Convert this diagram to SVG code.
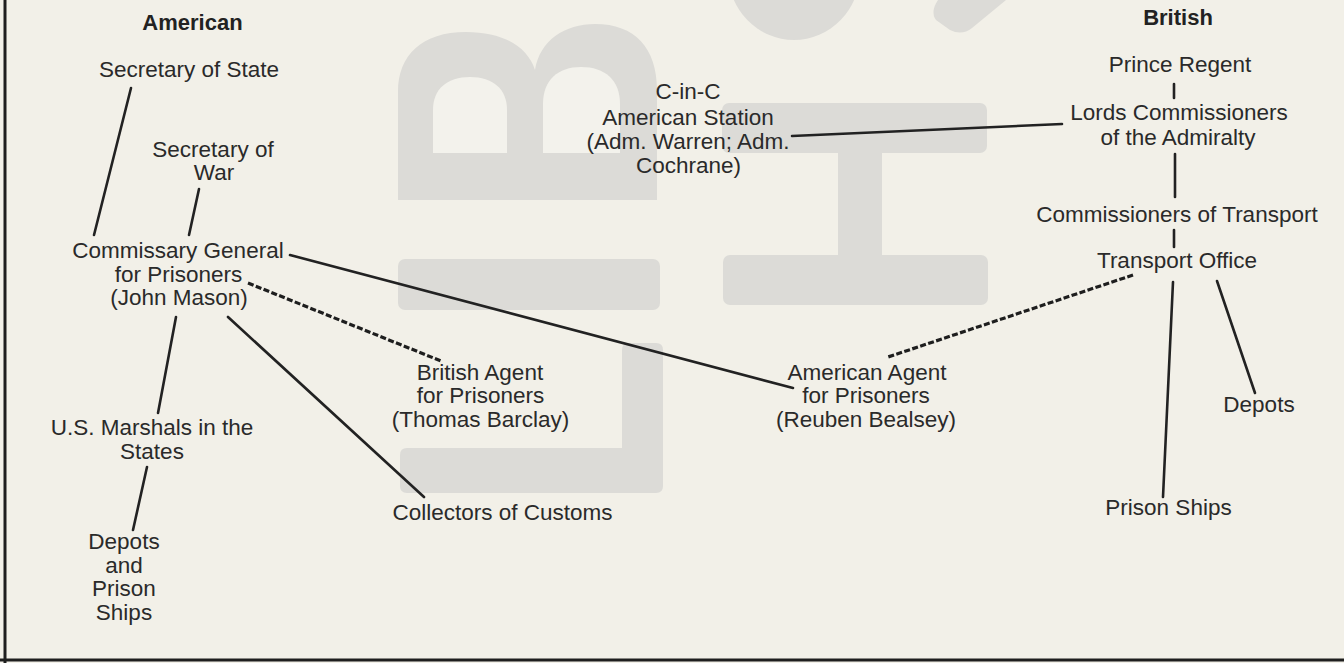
<svg xmlns="http://www.w3.org/2000/svg" width="1344" height="663" viewBox="0 0 1344 663">
<style>
  .t { font-family: "Liberation Sans", Arial, sans-serif; font-size: 22.5px; fill: #2a2a2a; text-anchor: middle; }
  .h { font-family: "Liberation Sans", Arial, sans-serif; font-size: 22px; font-weight: bold; fill: #222; text-anchor: middle; }
  .ln { stroke: #222; stroke-width: 2.6; fill: none; stroke-linecap: round; }
  .dash { stroke: #1e1e1e; stroke-width: 3.2; fill: none; stroke-dasharray: 6 2.4; }
  .wm { fill: #dcdbd7; }
  .hole { fill: #f3f2ec; }
</style>
<rect width="1344" height="663" fill="#f2f0e8"/>
<g id="watermark">
  <path class="wm" d="M398,200 V92 C398,55 422,32 466,32 C505,32 528,48 535,70 C540,40 565,24 595,24 C635,24 657,48 657,90 V200 Z"/>
  <path class="hole" d="M433,153 V110 C433,89 447,77 470,77 C493,77 507,89 507,110 V153 Z"/>
  <path class="hole" d="M543,153 V104 C543,80 558,67 581,67 C605,67 620,80 620,104 V153 Z"/>
  <rect class="wm" x="398" y="259" width="262" height="51" rx="7"/>
  <path class="wm" d="M622,350 Q622,343 629,343 H656 Q663,343 663,350 V486 Q663,493 656,493 H407 Q400,493 400,486 V455 Q400,448 407,448 H622 Z"/>
  <rect class="wm" x="722" y="103" width="265" height="50" rx="7"/>
  <rect class="wm" x="838" y="150" width="44" height="110"/>
  <rect class="wm" x="723" y="255" width="265" height="50" rx="7"/>
  <ellipse class="wm" cx="794" cy="-28" rx="66" ry="68"/>
  <path class="wm" d="M938,0 H1006 L972,28 Q962,36 950,30 L936,20 Q930,12 938,0 Z"/>
</g>
<g id="frame">
  <line x1="5" y1="0" x2="5" y2="663" stroke="#1e1e1e" stroke-width="3"/>
  <line x1="0" y1="660" x2="1344" y2="660" stroke="#1e1e1e" stroke-width="3"/>
</g>
<g id="connectors">
  <line class="ln" x1="131" y1="88" x2="94" y2="235"/>
  <line class="ln" x1="199" y1="189" x2="189" y2="235"/>
  <line class="ln" x1="290" y1="255" x2="793" y2="388"/>
  <line class="dash" x1="248" y1="283" x2="441" y2="361"/>
  <line class="ln" x1="228" y1="317" x2="424" y2="497"/>
  <line class="ln" x1="176" y1="317" x2="158" y2="413"/>
  <line class="ln" x1="147" y1="467" x2="133" y2="530"/>
  <line class="ln" x1="792" y1="136" x2="1062" y2="124"/>
  <line class="ln" x1="1174" y1="84" x2="1174" y2="98"/>
  <line class="ln" x1="1175" y1="154" x2="1175" y2="197"/>
  <line class="ln" x1="1174" y1="230" x2="1174" y2="247"/>
  <line class="dash" x1="1133" y1="275" x2="888" y2="357"/>
  <line class="ln" x1="1173" y1="282" x2="1163" y2="497"/>
  <line class="ln" x1="1217" y1="281" x2="1255" y2="393"/>
</g>
<g id="american-header"><text class="h" x="192.5" y="30">American</text></g>
<g id="secretary-state"><text class="t" x="189" y="77">Secretary of State</text></g>
<g id="secretary-war"><text class="t" x="213" y="157">Secretary of</text><text class="t" x="214" y="180">War</text></g>
<g id="commissary-general">
  <text class="t" x="178" y="258">Commissary General</text>
  <text class="t" x="178.5" y="282">for Prisoners</text>
  <text class="t" x="179" y="305">(John Mason)</text>
</g>
<g id="us-marshals"><text class="t" x="152" y="435">U.S. Marshals in the</text><text class="t" x="152" y="459">States</text></g>
<g id="depots-prison-ships-us">
  <text class="t" x="124" y="549">Depots</text>
  <text class="t" x="124" y="572.5">and</text>
  <text class="t" x="124" y="596">Prison</text>
  <text class="t" x="124" y="619.5">Ships</text>
</g>
<g id="british-agent">
  <text class="t" x="480" y="380">British Agent</text>
  <text class="t" x="480.5" y="403">for Prisoners</text>
  <text class="t" x="480.5" y="427">(Thomas Barclay)</text>
</g>
<g id="collectors"><text class="t" x="502.5" y="520">Collectors of Customs</text></g>
<g id="c-in-c">
  <text class="t" x="688" y="99">C-in-C</text>
  <text class="t" x="688" y="125">American Station</text>
  <text class="t" x="688" y="149">(Adm. Warren; Adm.</text>
  <text class="t" x="688.5" y="173">Cochrane)</text>
</g>
<g id="american-agent">
  <text class="t" x="867" y="380">American Agent</text>
  <text class="t" x="866" y="403">for Prisoners</text>
  <text class="t" x="866" y="427">(Reuben Bealsey)</text>
</g>
<g id="british-header"><text class="h" x="1178" y="25">British</text></g>
<g id="prince-regent"><text class="t" x="1180" y="72">Prince Regent</text></g>
<g id="lords-commissioners">
  <text class="t" x="1179" y="120">Lords Commissioners</text>
  <text class="t" x="1178" y="145">of the Admiralty</text>
</g>
<g id="commissioners-transport"><text class="t" x="1177" y="222">Commissioners of Transport</text></g>
<g id="transport-office"><text class="t" x="1177" y="268">Transport Office</text></g>
<g id="depots-gb"><text class="t" x="1259" y="412">Depots</text></g>
<g id="prison-ships-gb"><text class="t" x="1168.5" y="515">Prison Ships</text></g>
</svg>
